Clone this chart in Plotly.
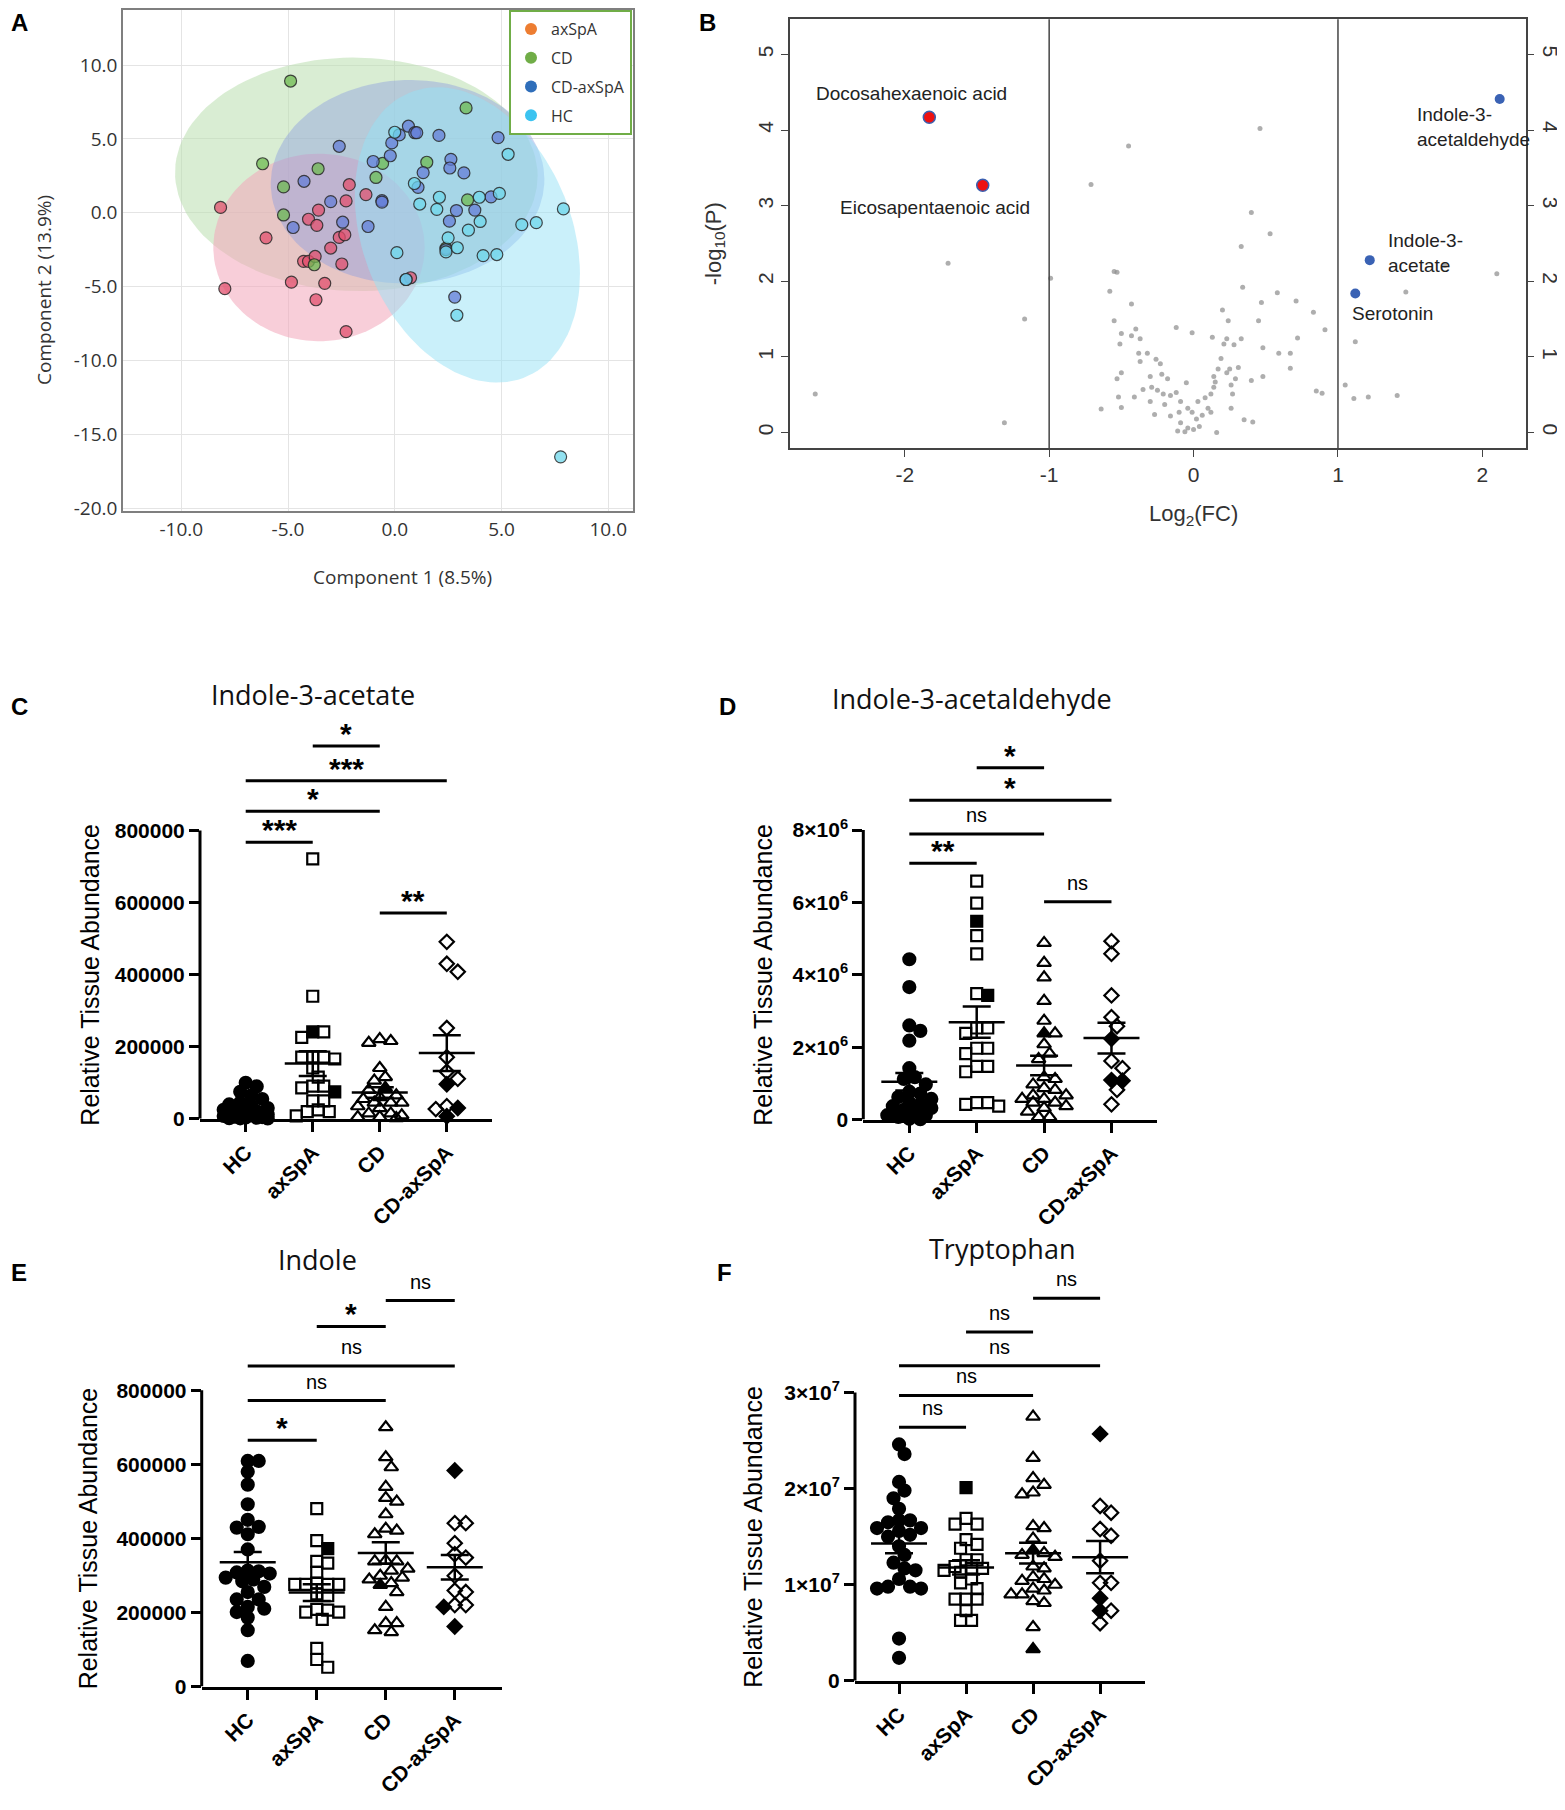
import numpy as np
import plotly.graph_objects as go

W, H = 1565, 1810
OFF = 8                      # page body margin of the html page
FW, FH = W - OFF, H - OFF    # figure size

# ---------------- panel A: score plot ----------------
a_axspa_x = [-8.16, -7.96, -6.03, -4.84, -4.27, -4.04, -4.04, -3.73, -3.65, -3.57, -3.69, -3.28, -3.0, -2.6, -2.48, -2.34, -2.28, -2.13, -2.28, -1.35, 0.74]
a_axspa_y = [0.36, -5.14, -1.70, -4.70, -3.29, -0.44, -3.29, -2.96, -0.85, 0.18, -5.89, -4.78, -2.39, -1.67, -3.47, -1.49, 0.80, 1.90, -8.05, 1.23, -4.40]
a_cd_x = [-4.88, -6.19, -5.21, -5.21, -3.59, -3.77, -0.88, -0.57, 1.50, 3.34, 3.41, 2.40]
a_cd_y = [8.92, 3.32, 1.75, -0.15, 2.98, -3.52, 2.39, 3.34, 3.42, 7.10, 0.87, -2.39]
a_cdax_x = [-2.6, -4.25, -4.76, -3.0, -2.44, -1.25, -1.01, -0.6, -0.6, -0.21, -0.14, 0.21, 0.64, 0.94, 1.03,
            1.09, 1.33, 2.07, 2.63, 2.58, 3.24, 2.89, 2.56, 3.75, 4.51, 4.84, 2.81, 0.53, 2.40]
a_cdax_y = [4.5, 2.13, -1.0, 0.75, -0.64, -0.93, 3.47, 0.82, 0.72, 3.86, 4.73, 5.27, 5.86, 5.42, 5.42,
            1.72, 2.72, 5.24, 3.62, 3.03, 2.70, 0.15, -0.57, 0.18, 1.08, 5.09, -5.71, -4.52, -2.49]
a_hc_x = [0.0, 5.31, 0.92, 1.17, 1.97, 2.09, 3.96, 4.0, 3.45, 2.5, 2.40, 2.93, 4.14, 4.78, 4.90, 5.95, 6.63, 7.90, 2.91, 0.1, 0.53, 7.77]
a_hc_y = [5.45, 3.96, 1.98, 0.59, 0.23, 1.05, 1.05, -0.59, -1.18, -1.70, -2.65, -2.37, -2.90, -2.83, 1.31, -0.80, -0.67, 0.26, -6.94, -2.70, -4.52, -16.53]
a_xticks = [-10, -5, 0, 5, 10]
a_yticks = [-20, -15, -10, -5, 0, 5, 10]

# confidence ellipses (centre, semi axes, tilt in degrees)
a_ell_name = ["CD", "axSpA", "CD-axSpA", "HC"]
a_ell_cx = [-1.8, -3.55, 0.6, 3.4]
a_ell_cy = [2.6, -2.35, 2.1, -1.5]
a_ell_a = [8.5, 4.95, 6.4, 10.13]
a_ell_b = [7.9, 6.35, 6.9, 5.02]
a_ell_deg = [-6, 0, -8, -79.4]

# ---------------- panel B: volcano ----------------
b_gray_fc = [-2.62, -1.31, -1.17, -1.70, -0.99, -0.71, -0.45, 0.46, 0.40, 0.53, 0.33, 0.34, 0.58, 0.71, 0.47, 0.83, 0.45,
             0.91, 0.72, 0.48, 0.59, 0.67, 0.67, 0.48, 0.85, 0.89, 1.05, 1.11, 1.21, 1.41, 1.12, 1.47, 1.74, 2.10,
             -0.55, -0.53, -0.58, -0.43, -0.55, -0.40, -0.50, -0.43, -0.37, -0.51, -0.38, -0.32, -0.37, -0.26, -0.23,
             -0.50, -0.53, -0.30, -0.22, -0.18, -0.35, -0.29, -0.25, -0.21, -0.16, -0.12, -0.05, -0.52, -0.41, -0.30,
             -0.20, -0.09, -0.50, -0.64, -0.27, -0.16, -0.10, -0.04, 0.03, 0.08, 0.12, 0.14, 0.15, 0.14, 0.17, 0.25,
             0.31, 0.26, 0.27, 0.26, 0.35, 0.41, 0.16, -0.09, -0.04, 0.00, 0.04, -0.06, 0.02, 0.06, 0.10, 0.12, -0.01,
             -0.11, -0.01, -0.12, 0.13, 0.21, 0.23, 0.28, 0.33, 0.19, 0.23, 0.29, 0.40, 0.24, 0.20]
b_gray_p = [0.51, 0.13, 1.50, 2.24, 2.04, 3.28, 3.79, 4.02, 2.91, 2.63, 2.46, 1.92, 1.85, 1.74, 1.72, 1.59, 1.48,
            1.36, 1.25, 1.12, 1.05, 1.05, 0.85, 0.74, 0.55, 0.52, 0.63, 0.45, 0.47, 0.49, 1.20, 1.86, 2.21, 2.10,
            2.13, 2.12, 1.87, 1.70, 1.48, 1.37, 1.31, 1.28, 1.24, 1.17, 1.05, 1.05, 0.94, 0.97, 0.91,
            0.79, 0.71, 0.74, 0.77, 0.71, 0.57, 0.60, 0.56, 0.51, 0.49, 0.53, 0.66, 0.47, 0.47, 0.41,
            0.37, 0.41, 0.33, 0.31, 0.24, 0.22, 0.27, 0.32, 0.41, 0.46, 0.51, 0.60, 0.67, 0.74, 0.84, 0.84,
            0.86, 0.63, 0.51, 0.32, 0.17, 0.14, 0.00, 0.13, 0.06, 0.04, 0.08, 0.01, 0.18, 0.23, 0.32, 0.27, 0.27,
            0.02, 1.32, 1.39, 1.26, 1.17, 1.24, 1.16, 1.24, 0.98, 0.79, 0.71, 0.69, 1.48, 1.62]
b_down_names = ["Docosahexaenoic acid", "Eicosapentaenoic acid"]
b_down_fc = [-1.83, -1.46]
b_down_p = [4.17, 3.27]
b_up_names = ["Indole-3-acetaldehyde", "Indole-3-acetate", "Serotonin"]
b_up_fc = [2.12, 1.22, 1.12]
b_up_p = [4.41, 2.28, 1.84]
b_xticks = [-2, -1, 0, 1, 2]
b_yticks = [0, 1, 2, 3, 4, 5]

# ---------------- panels C-F: tissue abundance ----------------
groups = ["HC", "axSpA", "CD", "CD-axSpA"]

c_hc = [100000, 90000, 75000, 65000, 55000, 45000, 40000, 35000, 30000, 28000, 25000, 22000, 20000, 18000,
        15000, 12000, 10000, 8000, 6000, 5000, 4000, 3000, 2000, 1500, 1000]
c_axspa = [721000, 340000, 241000, 241000, 226000, 171000, 171000, 171000, 166000, 141000, 116000, 91000, 91000,
           86000, 75000, 50000, 50000, 25000, 20000, 20000, 8000]
c_axspa_filled = [241000, 75000]
c_cd = [221000, 216000, 211000, 141000, 116000, 106000, 86000, 80000, 65000, 60000, 55000, 45000, 45000, 45000,
        35000, 30000, 15000, 15000, 10000, 5000, 5000, 2000]
c_cd_filled = [86000]
c_cdax = [491000, 430000, 408000, 252000, 171000, 131000, 111000, 96000, 35000, 30000, 27000, 7000]
c_cdax_filled = [96000, 30000, 7000]
c_pairs = [(0, 1), (0, 2), (0, 3), (1, 2), (2, 3)]
c_marks = ["***", "*", "***", "*", "**"]

d_hc = [4.43e6, 3.66e6, 2.60e6, 2.45e6, 2.18e6, 1.42e6, 1.17e6, 1.12e6, 0.97e6, 0.77e6, 0.72e6, 0.62e6,
        0.57e6, 0.47e6, 0.42e6, 0.37e6, 0.32e6, 0.27e6, 0.22e6, 0.12e6, 0.12e6, 0.07e6, 0.02e6, 0.01e6]
d_axspa = [6.59e6, 5.98e6, 5.48e6, 5.08e6, 4.58e6, 3.48e6, 3.43e6, 2.53e6, 2.53e6, 2.38e6, 1.97e6, 1.97e6,
           1.82e6, 1.47e6, 1.47e6, 1.32e6, 0.47e6, 0.47e6, 0.42e6, 0.37e6]
d_axspa_filled = [5.48e6, 3.43e6]
d_cd = [4.88e6, 4.33e6, 3.93e6, 3.28e6, 2.73e6, 2.38e6, 2.38e6, 2.08e6, 1.82e6, 1.67e6, 1.17e6, 1.12e6, 0.97e6,
        0.87e6, 0.82e6, 0.67e6, 0.67e6, 0.57e6, 0.57e6, 0.47e6, 0.47e6, 0.37e6, 0.32e6, 0.22e6, 0.07e6, 0.07e6]
d_cd_filled = [2.38e6]
d_cdax = [4.93e6, 4.58e6, 3.43e6, 2.83e6, 2.58e6, 2.23e6, 1.62e6, 1.42e6, 1.09e6, 1.07e6, 0.82e6, 0.42e6]
d_cdax_filled = [2.23e6, 1.09e6, 1.07e6]
d_pairs = [(0, 1), (0, 2), (0, 3), (1, 2), (2, 3)]
d_marks = ["**", "ns", "*", "*", "ns"]

e_hc = [609000, 609000, 580000, 545000, 492000, 450000, 431000, 429000, 411000, 370000, 313000, 311000, 308000,
        305000, 294000, 289000, 284000, 269000, 255000, 235000, 235000, 215000, 210000, 201000, 186000, 152000, 69000]
e_axspa = [480000, 394000, 372000, 338000, 333000, 308000, 279000, 276000, 276000, 276000, 276000, 250000, 245000,
           208000, 206000, 201000, 201000, 181000, 103000, 73000, 52000]
e_axspa_filled = [372000]
e_cd = [700000, 619000, 592000, 539000, 509000, 499000, 465000, 426000, 421000, 411000, 340000, 338000, 338000,
        318000, 313000, 299000, 294000, 289000, 279000, 274000, 255000, 215000, 171000, 171000, 152000, 147000]
e_cd_filled = [274000]
e_cdax = [583000, 441000, 441000, 387000, 357000, 348000, 299000, 259000, 255000, 220000, 220000, 215000, 162000]
e_cdax_filled = [583000, 215000, 162000]
e_pairs = [(0, 1), (0, 2), (0, 3), (1, 2), (2, 3)]
e_marks = ["*", "ns", "ns", "*", "ns"]

f_hc = [2.46e7, 2.36e7, 2.07e7, 1.98e7, 1.90e7, 1.79e7, 1.67e7, 1.67e7, 1.65e7, 1.59e7, 1.59e7, 1.56e7, 1.52e7,
        1.50e7, 1.40e7, 1.31e7, 1.23e7, 1.17e7, 1.15e7, 1.06e7, 0.98e7, 0.98e7, 0.96e7, 0.96e7, 0.44e7, 0.24e7]
f_axspa = [2.01e7, 1.69e7, 1.63e7, 1.63e7, 1.47e7, 1.42e7, 1.38e7, 1.26e7, 1.26e7, 1.19e7, 1.17e7, 1.17e7,
           1.15e7, 1.13e7, 1.06e7, 1.02e7, 0.96e7, 0.85e7, 0.85e7, 0.85e7, 0.73e7, 0.63e7, 0.63e7]
f_axspa_filled = [2.01e7]
f_cd = [2.75e7, 2.32e7, 2.11e7, 2.04e7, 1.96e7, 1.94e7, 1.61e7, 1.59e7, 1.48e7, 1.36e7, 1.33e7, 1.31e7, 1.29e7,
        1.19e7, 1.17e7, 1.08e7, 1.06e7, 1.04e7, 1.00e7, 0.96e7, 0.94e7, 0.90e7, 0.90e7, 0.83e7, 0.81e7, 0.56e7, 0.33e7]
f_cd_filled = [1.36e7, 0.33e7]
f_cdax = [2.57e7, 1.82e7, 1.75e7, 1.58e7, 1.51e7, 1.25e7, 1.02e7, 1.02e7, 0.86e7, 0.73e7, 0.73e7, 0.60e7]
f_cdax_filled = [2.57e7, 0.86e7, 0.73e7]
f_pairs = [(0, 1), (0, 2), (0, 3), (1, 2), (2, 3)]
f_marks = ["ns", "ns", "ns", "ns", "ns"]


def fx(p):
    return min(1.0, max(0.0, (p - OFF) / FW))


def fy(p):
    return min(1.0, max(0.0, 1 - (p - OFF) / FH))


fig = go.Figure()
annots = []
shapes = []


def label(xp, yp, text, size, family="Liberation Sans", color="black", angle=0, weight="normal", xanchor="center"):
    annots.append(dict(x=fx(xp), y=fy(yp), xref="paper", yref="paper", text=text, showarrow=False,
                       textangle=angle, xanchor=xanchor, yanchor="middle",
                       font=dict(family=family, size=size, color=color, weight=weight)))


def letter(xp, yp, text):
    # panel letters: left edge given, kept inside the page
    label(max(xp, OFF + 1), yp, text, 24, weight="bold", xanchor="left")


# ================= A =================
ell_fill = {"CD": "rgba(185,222,175,0.55)", "axSpA": "rgba(242,165,185,0.55)",
            "CD-axSpA": "rgba(135,155,225,0.42)", "HC": "rgba(150,225,245,0.5)"}
t = np.linspace(0, 2 * np.pi, 120)
for name, cx, cy, ea, eb, deg in zip(a_ell_name, a_ell_cx, a_ell_cy, a_ell_a, a_ell_b, a_ell_deg):
    ph = np.radians(deg)
    ex = cx + ea * np.cos(ph) * np.cos(t) - eb * np.sin(ph) * np.sin(t)
    ey = cy + ea * np.sin(ph) * np.cos(t) + eb * np.cos(ph) * np.sin(t)
    fig.add_trace(go.Scatter(x=ex, y=ey, mode="lines", fill="toself", fillcolor=ell_fill[name],
                             line=dict(width=0), hoverinfo="skip", showlegend=False, xaxis="x", yaxis="y"))

pt_col = {"axSpA": "rgba(225,80,110,0.75)", "CD": "rgba(110,185,80,0.75)",
          "CD-axSpA": "rgba(100,125,215,0.75)", "HC": "rgba(110,215,235,0.75)"}
for name, xs, ys in [("axSpA", a_axspa_x, a_axspa_y), ("CD", a_cd_x, a_cd_y),
                     ("CD-axSpA", a_cdax_x, a_cdax_y), ("HC", a_hc_x, a_hc_y)]:
    fig.add_trace(go.Scatter(x=xs, y=ys, mode="markers", showlegend=False, xaxis="x", yaxis="y",
                             marker=dict(size=12, color=pt_col[name],
                                         line=dict(color="rgba(40,40,40,0.85)", width=1.2))))
leg_col = {"axSpA": "#ED7D31", "CD": "#70AD47", "CD-axSpA": "#2F6EBA", "HC": "#3BC3F0"}
for name in ["axSpA", "CD", "CD-axSpA", "HC"]:
    fig.add_trace(go.Scatter(x=[None], y=[None], mode="markers", name=name, legendgroup=name,
                             xaxis="x", yaxis="y", marker=dict(size=12, color=leg_col[name])))

axA = dict(showline=True, mirror=True, linecolor="#7f7f7f", linewidth=1.5, showgrid=True,
           gridcolor="#e4e4e4", gridwidth=1, zeroline=False, ticks="",
           tickfont=dict(family="Open Sans", size=19, color="#333"))
fig.update_layout(
    xaxis=dict(axA, domain=[fx(123), fx(633)], range=[-12.73, 11.16], anchor="y",
               tickvals=a_xticks, ticktext=["%.1f" % v for v in a_xticks]),
    yaxis=dict(axA, domain=[fy(512.7), fy(8)], range=[-20.2, 13.73], anchor="x",
               tickvals=a_yticks, ticktext=["%.1f" % v for v in a_yticks]),
)
label(402, 579, "Component 1 (8.5%)", 19, family="Open Sans", color="#333")
label(44, 290, "Component 2 (13.9%)", 19, family="Open Sans", color="#333", angle=-90)

# ================= B =================
fig.add_trace(go.Scatter(x=b_gray_fc, y=b_gray_p, mode="markers", showlegend=False, xaxis="x2", yaxis="y2",
                         marker=dict(size=5, color="rgba(140,140,140,0.7)")))
fig.add_trace(go.Scatter(x=b_down_fc, y=b_down_p, mode="markers", showlegend=False, xaxis="x2", yaxis="y2",
                         marker=dict(size=12, color="#ee1111", line=dict(color="#3a5fb0", width=1.5))))
fig.add_trace(go.Scatter(x=b_up_fc, y=b_up_p, mode="markers", showlegend=False, xaxis="x2", yaxis="y2",
                         marker=dict(size=10, color="#3a62b4")))
for xv in [-1, 1]:
    shapes.append(dict(type="line", xref="x2", yref="y2 domain", x0=xv, x1=xv, y0=0, y1=1,
                       line=dict(color="#444", width=1.5)))
narrow = "Liberation Sans Narrow, Arial Narrow, Liberation Sans"
b_lab = [("Docosahexaenoic acid", -1.95, 4.48, "center"),
         ("Eicosapentaenoic acid", -1.79, 2.97, "center"),
         ("Indole-3-<br>acetaldehyde", 1.53, 4.04, "left"),
         ("Indole-3-<br>acetate", 1.33, 2.37, "left"),
         ("Serotonin", 1.08, 1.57, "left")]
for txt, xv, yv, anc in b_lab:
    annots.append(dict(x=xv, y=yv, xref="x2", yref="y2", text=txt, showarrow=False, xanchor=anc,
                       align="left", yanchor="middle", font=dict(family=narrow, size=19, color="#222")))
axB = dict(showline=True, linecolor="#444", linewidth=1.5, showgrid=False, zeroline=False, ticks="outside",
           ticklen=7, tickcolor="#444", tickfont=dict(family=narrow, size=21, color="#333"))
fig.update_layout(
    xaxis2=dict(axB, domain=[fx(789.8), fx(1525.7)], range=[-2.796, 2.30], anchor="y2", mirror=True,
                tickvals=b_xticks, ticktext=["%d" % v for v in b_xticks]),
    yaxis2=dict(axB, domain=[fy(449.4), fy(17.2)], range=[-0.207, 5.467], anchor="x2", mirror=True,
                tickvals=b_yticks, tickangle=-90),
    yaxis7=dict(axB, range=[-0.207, 5.467], anchor="x2", overlaying="y2", side="right",
                tickvals=b_yticks, tickangle=90),
)
fig.add_trace(go.Scatter(x=[None], y=[None], xaxis="x2", yaxis="y7", showlegend=False))
label(1193.6, 517, "Log<sub>2</sub>(FC)", 22, family=narrow, color="#333")
label(715, 244, "-log<sub>10</sub>(P)", 22, family=narrow, color="#333", angle=-90)


# ================= C-F =================
def swarm_offsets(vals, px_per_unit, d=11.0, cap=26.0):
    vals = np.asarray(vals, float)
    ypx = vals * px_per_unit
    cands = [0.0]
    for k in range(1, 8):
        cands += [k * d * 0.5, -k * d * 0.5]
    placed = []
    offs = np.zeros(len(vals))
    for i in np.argsort(-vals):
        best, best_c, best_gap = None, 0.0, -1.0
        for c in cands:
            if abs(c) > cap:
                continue
            gap = min([np.hypot(c - px, ypx[i] - py) for px, py in placed] or [1e9])
            if gap >= d * 0.92:
                best = c
                break
            if gap > best_gap:
                best_gap, best_c = gap, c
        if best is None:
            best = best_c
        placed.append((best, ypx[i]))
        offs[i] = best
    return offs


sym_open = ["circle", "square-open", "triangle-up-open", "diamond-open"]
sym_fill = ["circle", "square", "triangle-up", "diamond"]
sym_size = [12, 11, 12, 11]

bar_y = {
    3: [767000, 853000, 938000, 1034000, 571000],
    4: [7.08e6, 7.89e6, 8.82e6, 9.72e6, 6.02e6],
    5: [665000, 772000, 865000, 972000, 1042000],
    6: [2.64e7, 2.97e7, 3.28e7, 3.63e7, 3.98e7],
}


def dotplot(n, data, filled, pairs, marks, x0, x1, xr, ybot, ytick_px, ytop_val, top_px, ytickvals, yticktext,
            title, title_xy, ylab_x, let, let_xy):
    xa, ya = "x%d" % n, "y%d" % n
    ymax = (ybot - top_px) / (ybot - ytick_px) * ytop_val
    step_px = (x1 - x0) / (xr[1] - xr[0])
    ypx = (ybot - ytick_px) / ytop_val
    for gi, (vals, fl) in enumerate(zip(data, filled)):
        offs = swarm_offsets(vals, ypx)
        xs = gi + offs / step_px
        is_f = np.zeros(len(vals), bool)
        for fv in fl:
            hit = [k for k, v in enumerate(vals) if v == fv and not is_f[k]]
            if hit:
                is_f[hit[0]] = True
        vals = np.asarray(vals, float)
        for mask, sym in [(~is_f, sym_open[gi]), (is_f, sym_fill[gi])]:
            if mask.any():
                fig.add_trace(go.Scatter(x=xs[mask], y=vals[mask], mode="markers", showlegend=False,
                                         xaxis=xa, yaxis=ya, cliponaxis=False,
                                         marker=dict(symbol=sym, size=sym_size[gi], color="black",
                                                     line=dict(color="black", width=2.2))))
        m = vals.mean()
        sem = vals.std(ddof=1) / np.sqrt(len(vals))
        fig.add_trace(go.Scatter(x=[gi], y=[m], mode="markers", showlegend=False, xaxis=xa, yaxis=ya,
                                 cliponaxis=False,
                                 marker=dict(symbol="line-ew-open", size=40, color="black",
                                             line=dict(color="black", width=2.5)),
                                 error_y=dict(type="data", array=[sem], width=14, thickness=2.5, color="black")))
    for k, ((i, j), mk) in enumerate(zip(pairs, marks)):
        yv = bar_y[n][k]
        shapes.append(dict(type="line", xref=xa, yref=ya, x0=i, x1=j, y0=yv, y1=yv,
                           line=dict(color="black", width=3)))
        is_ns = mk == "ns"
        annots.append(dict(x=(i + j) / 2, y=yv, xref=xa, yref=ya, text=mk, showarrow=False,
                           yanchor="bottom", yshift=6 if is_ns else -6,
                           font=dict(family="Liberation Sans", size=20 if is_ns else 30, color="black",
                                     weight="normal" if is_ns else "bold")))
    shapes.append(dict(type="line", xref="%s domain" % xa, yref=ya, x0=0, x1=0, y0=0, y1=ytickvals[-1],
                       line=dict(color="black", width=3)))
    fig.layout["xaxis%d" % n] = dict(domain=[fx(x0), fx(x1)], range=xr, anchor=ya, showline=True,
                                     linecolor="black", linewidth=3, showgrid=False, zeroline=False,
                                     ticks="outside", ticklen=10, tickwidth=2.5, tickcolor="black",
                                     tickvals=[0, 1, 2, 3], ticktext=groups, tickangle=-45,
                                     tickfont=dict(family="Liberation Sans", size=21, color="black",
                                                   weight="bold"))
    fig.layout["yaxis%d" % n] = dict(domain=[fy(ybot), fy(top_px)], range=[0, ymax], anchor=xa,
                                     showline=False, showgrid=False, zeroline=False, ticks="outside",
                                     ticklen=10, tickwidth=2.5, tickcolor="black", tickvals=ytickvals,
                                     ticktext=yticktext,
                                     tickfont=dict(family="Liberation Sans", size=21, color="black",
                                                   weight="bold"))
    label(title_xy[0], title_xy[1], title, 27, family="Open Sans", color="#111")
    label(ylab_x, (ybot + ytick_px) / 2, "Relative Tissue Abundance", 25, angle=-90)
    letter(let_xy[0], let_xy[1], let)


t5 = [0, 200000, 400000, 600000, 800000]
dotplot(3, [c_hc, c_axspa, c_cd, c_cdax], [[], c_axspa_filled, c_cd_filled, c_cdax_filled], c_pairs, c_marks,
        200, 491.7, [-0.682, 3.67], 1124.9, 834.4, 800000, 700, t5, [str(v) for v in t5],
        "Indole-3-acetate", (313, 697), 90, "C", (1, 710))
dotplot(4, [d_hc, d_axspa, d_cd, d_cdax], [[], d_axspa_filled, d_cd_filled, d_cdax_filled], d_pairs, d_marks,
        863.3, 1157.3, [-0.683, 3.68], 1125.6, 834, 8e6, 700, [0, 2e6, 4e6, 6e6, 8e6],
        ["0"] + ["%d×10<sup>6</sup>" % k for k in (2, 4, 6, 8)],
        "Indole-3-acetaldehyde", (972, 701), 763, "D", (717, 710))
dotplot(5, [e_hc, e_axspa, e_cd, e_cdax], [[], e_axspa_filled, e_cd_filled, e_cdax_filled], e_pairs, e_marks,
        201.7, 501.7, [-0.667, 3.68], 1696.7, 1398.2, 800000, 1270, t5, [str(v) for v in t5],
        "Indole", (317, 1267), 88, "E", (1, 1280))
dotplot(6, [f_hc, f_axspa, f_cd, f_cdax], [[], f_axspa_filled, f_cd_filled, f_cdax_filled], f_pairs, f_marks,
        855, 1145, [-0.657, 3.67], 1691, 1400.6, 3e7, 1265, [0, 1e7, 2e7, 3e7],
        ["0"] + ["%d×10<sup>7</sup>" % k for k in (1, 2, 3)],
        "Tryptophan", (1002, 1256), 753, "F", (715, 1280))

letter(1, 21, "A")
letter(697, 21, "B")

fig.update_layout(
    width=FW, height=FH, margin=dict(l=0, r=0, t=0, b=0),
    paper_bgcolor="white", plot_bgcolor="white",
    showlegend=True,
    legend=dict(x=fx(509), y=1.0, xanchor="left", yanchor="top", bordercolor="#70AD47", borderwidth=2,
                bgcolor="white", font=dict(family="Open Sans", size=16, color="#333"), itemwidth=30,
                tracegroupgap=5),
    annotations=annots, shapes=shapes,
)
fig.write_html("out.html")
